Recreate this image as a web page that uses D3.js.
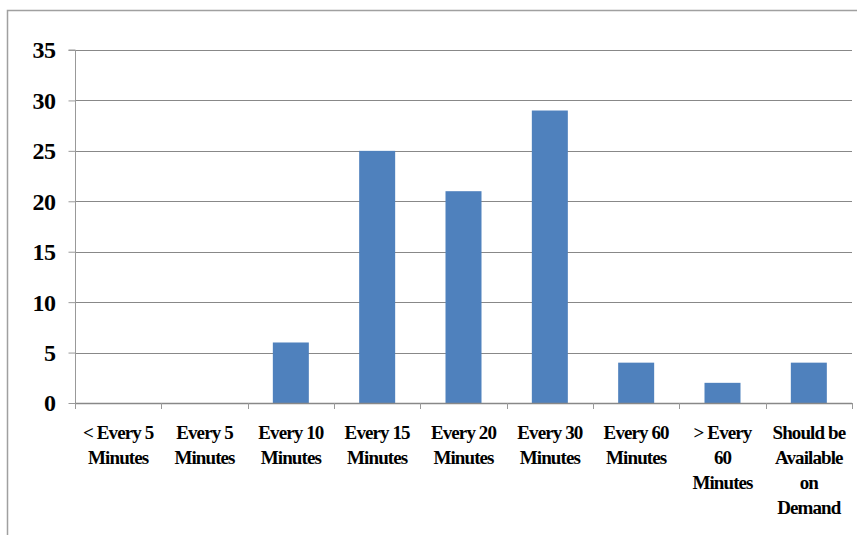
<!DOCTYPE html>
<html><head><meta charset="utf-8">
<script src="https://cdn.jsdelivr.net/npm/d3@7"></script>
<style>body{margin:0;background:#fff;}svg{display:block;}</style>
</head><body>
<script>
const categories = [["< Every 5","Minutes"],["Every 5","Minutes"],["Every 10","Minutes"],["Every 15","Minutes"],["Every 20","Minutes"],["Every 30","Minutes"],["Every 60","Minutes"],["> Every","60","Minutes"],["Should be","Available","on","Demand"]];
const values = [0,0,6,25,21,29,4,2,4];
const yTicks = [0,5,10,15,20,25,30,35];

const W=857,H=535;
const FONT="'Liberation Serif','Times New Roman',Times,serif";
const svg=d3.select("body").append("svg").attr("width",W).attr("height",H);
svg.append("rect").attr("x",7.5).attr("y",10.5).attr("width",W).attr("height",H).attr("fill","none").attr("stroke","#a0a0a0").attr("stroke-width",1.5);

const x0=75,x1=852,yTop=50,yBot=403;
const x=d3.scaleBand().domain(d3.range(categories.length)).range([x0,x1]).paddingInner(0).paddingOuter(0);
const y=d3.scaleLinear().domain([0,35]).range([yBot,yTop]);

// gridlines
svg.append("g").selectAll("line").data(yTicks.filter(d=>d>0)).join("line")
 .attr("x1",x0).attr("x2",x1).attr("y1",d=>Math.round(y(d))+0.5).attr("y2",d=>Math.round(y(d))+0.5)
 .attr("stroke","#888").attr("stroke-width",1);

// y axis
const ya=svg.append("g").attr("transform",`translate(${x0+0.5},0)`)
 .call(d3.axisLeft(y).tickValues(yTicks).tickSize(7).tickPadding(13));
ya.select(".domain").attr("stroke","#999").attr("d",`M-7,${y(35)}H0V${yBot}`);
ya.selectAll(".tick line").attr("stroke","#999");
ya.selectAll(".tick text").attr("font-family",FONT).attr("font-weight","bold").attr("font-size","24px").attr("fill","#000").attr("dy","0.33em").attr("letter-spacing","-0.5px");

// bars
const bw=36;
svg.append("g").selectAll("rect").data(values).join("rect")
 .attr("x",(d,i)=>x(i)+x.bandwidth()/2-bw/2).attr("width",bw)
 .attr("y",d=>y(d)).attr("height",d=>yBot-y(d)).attr("fill","#4F81BD");

// x axis
svg.append("line").attr("x1",x0).attr("x2",x1).attr("y1",yBot+0.5).attr("y2",yBot+0.5).attr("stroke","#888").attr("stroke-width",1.3);
svg.append("g").selectAll("line").data(d3.range(categories.length+1)).join("line")
 .attr("x1",i=>Math.round(x0+i*x.bandwidth())+0.5).attr("x2",i=>Math.round(x0+i*x.bandwidth())+0.5)
 .attr("y1",yBot).attr("y2",yBot+6).attr("stroke","#999");

const lab=svg.append("g");
categories.forEach((lines,i)=>{
  const t=lab.append("text").attr("x",x(i)+x.bandwidth()/2).attr("y",439).attr("text-anchor","middle")
   .attr("font-family",FONT).attr("font-weight","bold").attr("font-size","19px").attr("letter-spacing","-0.9px").attr("fill","#000");
  lines.forEach((l,j)=>t.append("tspan").attr("x",x(i)+x.bandwidth()/2).attr("dy",j?25:0).text(l));
});
</script>
</body></html>
